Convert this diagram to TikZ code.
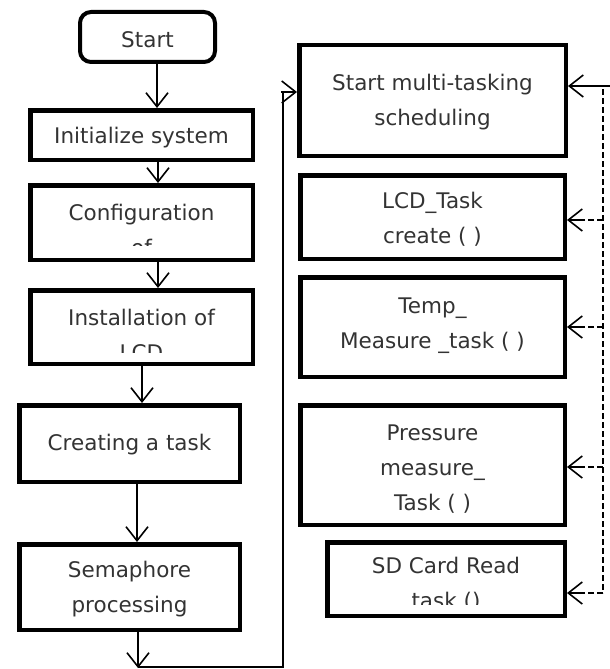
\documentclass[tikz,border=0pt]{standalone}
\usepackage{fontspec}
\setmainfont{DejaVu Sans}
\usetikzlibrary{arrows.meta}
\tikzset{
  boxframe/.style={draw, line width=4.5pt, inner sep=0pt},
  label/.style={inner sep=0pt, anchor=base, text=black!80, font=\fontsize{21.5}{35}\selectfont},
  conn/.style={line width=1.4pt},
  arr/.style={conn, -{Straight Barb[length=14pt, width=22pt, line width=1.6pt]}},
  feedback/.style={line width=1.2pt, dash pattern=on 6pt off 3pt}
}
\newcommand{\boxtext}[1]{\begin{tabular}[t]{@{}c@{}}#1\end{tabular}}
\begin{document}
\begin{tikzpicture}[x=1pt, y=-1pt]
\useasboundingbox (0,0) rectangle (610,669);

% left column
\node[boxframe, line width=4pt, rounded corners=11pt, minimum width=135pt, minimum height=50pt] (start) at (147.5,37) {};
\node[label] (tstart) at (147.5,48) {Start};

\node[boxframe, minimum width=222.5pt, minimum height=49.5pt] (init) at (141.5,135) {};
\node[label] (tinit) at (141.5,143) {Initialize system};

\node[boxframe, minimum width=222.5pt, minimum height=74.5pt] (conf) at (141.5,222.5) {};
\begin{scope}
  \clip ([yshift=17pt]conf.south west) rectangle (conf.north east);
  \node[label] (tconf) at (141.5,220) {\boxtext{Configuration\\of}};
\end{scope}

\node[boxframe, minimum width=222.5pt, minimum height=73.5pt] (inst) at (141.5,327) {};
\begin{scope}
  \clip ([yshift=14pt]inst.south west) rectangle (inst.north east);
  \node[label] (tinst) at (141.5,325) {\boxtext{Installation of\\LCD}};
\end{scope}

\node[boxframe, minimum width=220.5pt, minimum height=76.5pt] (task) at (129.5,443.5) {};
\node[label] (ttask) at (129.5,450) {Creating a task};

\node[boxframe, minimum width=220.5pt, minimum height=85.5pt] (sema) at (129.5,587) {};
\node[label] (tsema) at (129.5,577) {\boxtext{Semaphore\\processing}};

% right column
\node[boxframe, minimum width=266.5pt, minimum height=110.5pt] (multi) at (432.5,100.5) {};
\node[label] (tmulti) at (432.5,90) {\boxtext{Start multi-tasking\\scheduling}};

\node[boxframe, minimum width=264.5pt, minimum height=83.5pt] (lcd) at (432.5,217) {};
\node[label] (tlcd) at (432.5,208) {\boxtext{LCD\_Task\\create ( )}};

\node[boxframe, minimum width=264.5pt, minimum height=99.5pt] (temp) at (432.5,327) {};
\node[label] (ttemp) at (432.5,313) {\boxtext{Temp\_\\Measure \_task ( )}};

\node[boxframe, minimum width=264.5pt, minimum height=119.5pt] (press) at (432.5,465) {};
\node[label] (tpress) at (432.5,440) {\boxtext{Pressure\\measure\_\\Task ( )}};

\node[boxframe, minimum width=237.5pt, minimum height=73.5pt] (sd) at (446,579) {};
\begin{scope}
  \clip ([yshift=14pt]sd.south west) rectangle (sd.north east);
  \node[label] (tsd) at (446,573) {\boxtext{SD Card Read\\task ()}};
\end{scope}

% main flow
\draw[arr] (start.south -| 157,0) -- (init.north -| 157,0);
\draw[arr] (init.south -| 158,0) -- (conf.north -| 158,0);
\draw[arr] (conf.south -| 158,0) -- (inst.north -| 158,0);
\draw[arr] (inst.south -| 142,0) -- (task.north -| 142,0);
\draw[arr] (task.south -| 137,0) -- (sema.north -| 137,0);

\coordinate (down) at (138,668);
\coordinate (turn) at (283,667);
\coordinate (rise) at (281,92);
\draw[arr] (sema.south -| down) -- (down);
\draw[conn, line width=1.2pt] (138,667) -- (turn) |- (rise);
\draw[arr] ([xshift=-2pt]turn |- rise) -- (multi.west |- rise);

% task feedback to the scheduler
\coordinate (edge) at (610,86);
\draw[arr] (edge) -- (multi.east |- edge);
\draw[feedback] (603,89) -- (603,593);
\foreach \nm/\yy in {lcd/220, temp/327, press/467, sd/593}{
  \draw[feedback] (603,\yy) -- ([xshift=12pt]\nm.east |- 0,\yy);
  \draw[arr] ([xshift=13pt]\nm.east |- 0,\yy) -- (\nm.east |- 0,\yy);
}
\end{tikzpicture}
\end{document}
